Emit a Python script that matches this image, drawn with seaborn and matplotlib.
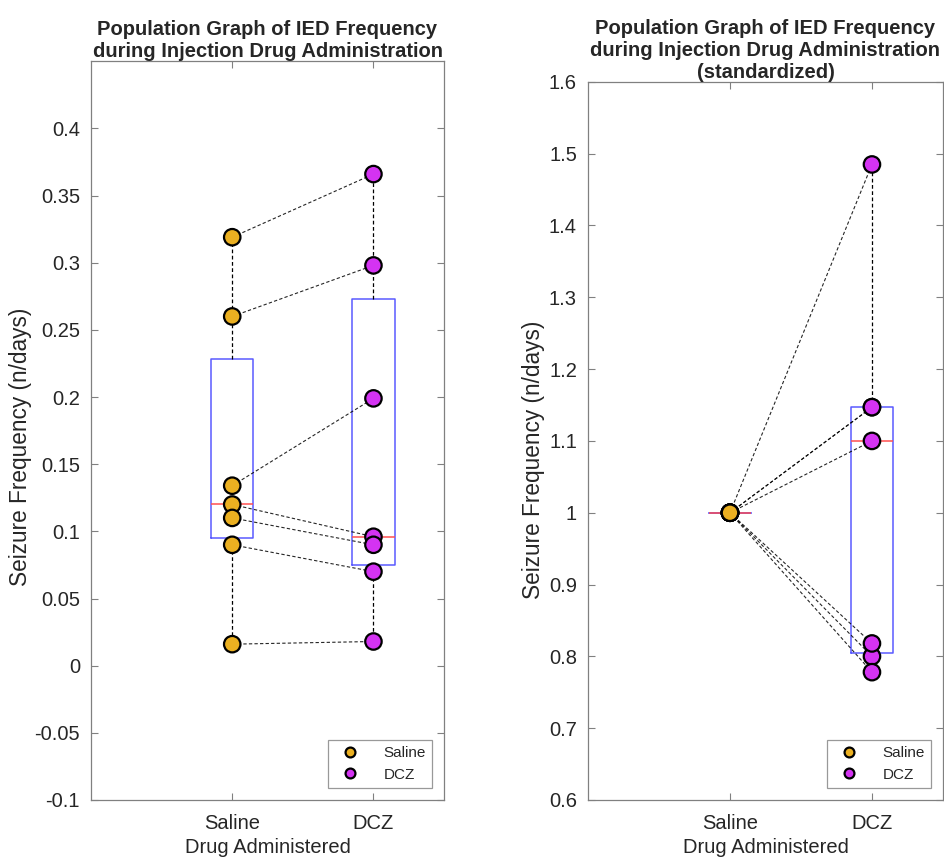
import numpy as np
import pandas as pd
import matplotlib
matplotlib.use('Agg')
import matplotlib.pyplot as plt
import seaborn as sns

# valores (n/days)
pares = [1, 2, 3, 4, 5, 6, 7]
saline = [0.319, 0.260, 0.134, 0.120, 0.110, 0.090, 0.016]
dcz = [0.366, 0.298, 0.199, 0.096, 0.090, 0.070, 0.018]

# padronizado (DCZ / Saline)
saline_std = [1, 1, 1, 1, 1, 1, 1]
dcz_std = [1.147, 1.147, 1.485, 0.800, 0.818, 0.778, 1.100]

grupos = ['Saline', 'DCZ']
cores = {'Saline': '#EBB021', 'DCZ': '#D433F2'}
titulo = 'Population Graph of IED Frequency\nduring Injection Drug Administration'

sns.set_style('white')
plt.rcParams['font.family'] = ['Liberation Sans', 'DejaVu Sans']
plt.rcParams['axes.unicode_minus'] = False


def monta_df(a, b):
    df = pd.DataFrame({
        'par': pares * 2,
        'Drug': ['Saline'] * len(a) + ['DCZ'] * len(b),
        'value': list(a) + list(b),
    })
    df['x'] = df['Drug'].map({'Saline': 1, 'DCZ': 2})
    return df


def stats_box(vals, nome):
    # quartis tipo matlab (prctile)
    q1, med, q3 = np.percentile(vals, [25, 50, 75], method='hazen')
    iqr = q3 - q1
    v = np.array(vals)
    lo = v[v >= q1 - 1.5 * iqr].min()
    hi = v[v <= q3 + 1.5 * iqr].max()
    return dict(label=nome, med=med, q1=q1, q3=q3, whislo=lo, whishi=hi, fliers=[])


def painel(ax, df, a, b, ylim, yticks, tit, ylab_xy):
    ax.bxp([stats_box(a, 'Saline'), stats_box(b, 'DCZ')], positions=[1, 2], widths=0.3,
           showcaps=False, showfliers=False, manage_ticks=False,
           boxprops=dict(color='#5a5aff', lw=1.1),
           medianprops=dict(color='#ff5050', lw=1.1),
           whiskerprops=dict(color='k', ls=(0, (3, 2)), lw=0.9))
    sns.lineplot(data=df, x='x', y='value', units='par', estimator=None, color='k',
                 lw=0.8, ls=(0, (3, 2)), alpha=0.85, ax=ax, legend=False, zorder=2)
    sns.scatterplot(data=df, x='x', y='value', hue='Drug', hue_order=grupos, palette=cores,
                    s=140, edgecolor='k', linewidth=1.6, ax=ax, zorder=3)
    ax.set_xlim(0, 2.5)
    ax.set_ylim(*ylim)
    ax.set_yticks(yticks)
    ax.set_yticklabels(['%g' % t for t in yticks])
    ax.set_xticks([1, 2])
    ax.set_xticklabels(grupos)
    ax.tick_params(direction='in', length=5, width=0.8, color='#808080', labelsize=14.5,
                   labelcolor='#262626', top=True, right=True, bottom=True, left=True)
    ax.tick_params(axis='x', pad=10)
    ax.tick_params(axis='y', pad=8)
    for s in ax.spines.values():
        s.set_color('#808080')
        s.set_linewidth(0.9)
    ax.set_xlabel('Drug Administered', fontsize=14.5, color='#262626', labelpad=4)
    ax.set_ylabel('Seizure Frequency (n/days)', fontsize=16.3, color='#262626')
    ax.yaxis.set_label_coords(*ylab_xy)
    ax.set_title(tit, fontsize=14.5, fontweight='bold', pad=3)
    leg = ax.legend(loc='lower right', fontsize=11, markerscale=0.6, frameon=True,
                    fancybox=False, borderaxespad=0.8, handletextpad=1.2)
    leg.get_frame().set_edgecolor('#808080')
    leg.get_frame().set_linewidth(0.9)


fig = plt.figure(figsize=(9.44, 8.59), dpi=100)
ax1 = fig.add_axes([0.0964, 0.0687, 0.374, 0.860])
ax2 = fig.add_axes([0.6229, 0.0687, 0.376, 0.836])

painel(ax1, monta_df(saline, dcz), saline, dcz, (-0.1, 0.45),
       np.round(np.arange(-0.1, 0.401, 0.05), 2), titulo, (-0.167, 0.478))
painel(ax2, monta_df(saline_std, dcz_std), saline_std, dcz_std, (0.6, 1.6),
       np.round(np.arange(0.6, 1.601, 0.1), 1), titulo + '\n(standardized)', (-0.122, 0.474))

fig.savefig('out.png', dpi=100)
